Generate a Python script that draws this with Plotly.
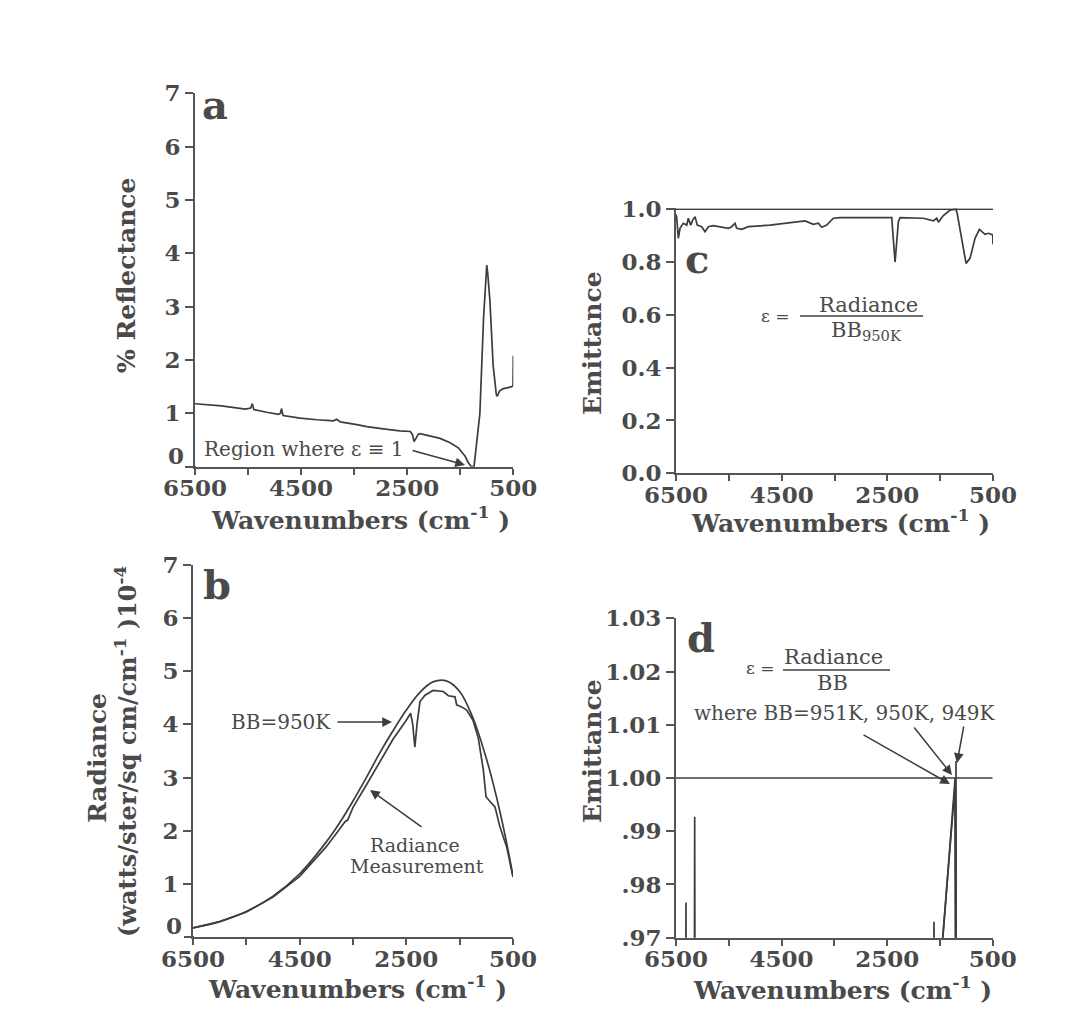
import plotly.graph_objects as go

W, H = 1092, 1020
OFF = 8  # page body margin of the html page

# ---------------- data ----------------
# Panel a: % reflectance
a_wn = [6500, 6000, 5550, 5450, 5420, 5390, 5150, 4930, 4890, 4870, 4840, 4520, 4200,
        3890, 3830, 3760, 3450, 3260, 2950, 2640, 2440, 2400, 2370, 2340, 2290, 2260,
        2010, 1880, 1690, 1530, 1470, 1410, 1350, 1290, 1240, 1130, 1060, 1020, 1000,
        980, 940, 880, 820, 800, 760, 700, 600, 530, 505, 500]
a_refl = [1.18, 1.14, 1.08, 1.10, 1.18, 1.07, 1.02, 0.98, 1.00, 1.09, 0.96, 0.91, 0.88,
          0.86, 0.89, 0.84, 0.79, 0.75, 0.71, 0.67, 0.66, 0.60, 0.47, 0.52, 0.61, 0.62,
          0.57, 0.53, 0.45, 0.35, 0.27, 0.20, 0.08, 0.0, 0.0, 1.0, 2.8, 3.55, 3.78,
          3.6, 3.1, 1.9, 1.35, 1.32, 1.42, 1.46, 1.48, 1.50, 1.52, 2.08]

# Panel b: radiance (x 1e-4)
b_bb_wn = [6500, 6000, 5500, 5000, 4500, 4000, 3750, 3500, 3250, 3000, 2750, 2500,
           2250, 2000, 1750, 1500, 1250, 1000, 875, 750, 625, 500]
b_bb = [0.17, 0.29, 0.48, 0.77, 1.19, 1.79, 2.15, 2.56, 3.00, 3.46, 3.88, 4.27,
        4.60, 4.80, 4.82, 4.62, 4.12, 3.36, 2.90, 2.38, 1.80, 1.15]
b_meas_wn = [6500, 6000, 5500, 5000, 4500, 4000, 3750, 3650, 3600, 3500, 3250, 3000,
             2750, 2500, 2420, 2380, 2340, 2300, 2244, 2150, 2000, 1806, 1713, 1588,
             1556, 1463, 1369, 1250, 1150, 1056, 1006, 931, 838, 744, 620, 500]
b_meas = [0.17, 0.29, 0.47, 0.75, 1.14, 1.70, 2.03, 2.17, 2.20, 2.44, 2.86, 3.30,
          3.72, 4.08, 4.21, 4.00, 3.57, 4.00, 4.43, 4.55, 4.64, 4.62, 4.54, 4.52,
          4.37, 4.33, 4.27, 4.08, 3.74, 3.14, 2.64, 2.55, 2.45, 2.07, 1.70, 1.13]

# Panel c: emittance (BB 950K)
c_wn = [6500, 6487, 6456, 6424, 6362, 6297, 6267, 6222, 6184, 6140, 6097, 6014, 5951,
        5888, 5794, 5667, 5510, 5446, 5383, 5351, 5256, 5131, 4721, 4058, 3901, 3806,
        3742, 3647, 3522, 3396, 2417, 2354, 2291, 2259, 1818, 1629, 1565, 1534, 1440,
        1313, 1250, 1200, 1175, 1092, 1010, 935, 840, 758, 650, 588, 505, 500]
c_emit = [0.98, 0.97, 0.89, 0.928, 0.947, 0.940, 0.966, 0.940, 0.959, 0.972, 0.940,
          0.934, 0.915, 0.934, 0.938, 0.934, 0.928, 0.934, 0.947, 0.928, 0.924, 0.934,
          0.940, 0.956, 0.943, 0.947, 0.932, 0.940, 0.966, 0.968, 0.968, 0.80, 0.953,
          0.968, 0.966, 0.956, 0.966, 0.951, 0.976, 0.997, 1.0, 1.0, 0.981, 0.89, 0.795,
          0.814, 0.89, 0.924, 0.905, 0.909, 0.903, 0.867]
ref_wn = [6500, 500]
ref_val = [1.0, 1.0]

# Panel d: emittance for three blackbody temperatures
d951_wn = [6500, 1455, 1214, 1198, 500]
d951 = [0.93, 0.969, 0.9985, 0.95, 0.90]
d950_wn = [6500, 1452, 1212, 1197, 500]
d950 = [0.93, 0.969, 1.000, 0.95, 0.90]
d949_wn = [6500, 6320, 6311, 6302, 6155, 6146, 6137, 1625, 1612, 1600, 1200, 1195, 1190, 500]
d949 = [0.93, 0.94, 0.9766, 0.94, 0.94, 0.9927, 0.94, 0.95, 0.973, 0.95, 0.95, 1.0032, 0.95, 0.90]

x_major = [6500, 4500, 2500, 500]
x_minor = [5500, 3500, 1500]
ab_yticks = [1, 2, 3, 4, 5, 6, 7]   # the "0" label sits just above the axis line
c_yticks = [0.0, 0.2, 0.4, 0.6, 0.8, 1.0]
c_ytext = ["0.0", "0.2", "0.4", "0.6", "0.8", "1.0"]
d_yticks = [0.97, 0.98, 0.99, 1.00, 1.01, 1.02, 1.03]
d_ytext = [".97", ".98", ".99", "1.00", "1.01", "1.02", "1.03"]

# ---------------- styling ----------------
INK = "#3d3d3d"
TXT = "#4a4a4a"
FONT = "DejaVu Serif"
LW = 1.7


def px(x):
    return (x - OFF) / W


def py(y):
    return 1 - (y - OFF) / H


fig = go.Figure()


def line(x, y, xa, ya, shape="linear"):
    fig.add_trace(go.Scatter(x=x, y=y, xaxis=xa, yaxis=ya, mode="lines",
                             line=dict(color=INK, width=LW, shape=shape),
                             showlegend=False, hoverinfo="skip"))


line(a_wn, a_refl, "x", "y")
line(b_bb_wn, b_bb, "x2", "y2", "spline")
line(b_meas_wn, b_meas, "x2", "y2")
line(ref_wn, ref_val, "x3", "y3")
line(c_wn, c_emit, "x3", "y3")
line(ref_wn, ref_val, "x4", "y4")
line(d951_wn, d951, "x4", "y4")
line(d950_wn, d950, "x4", "y4")
line(d949_wn, d949, "x4", "y4")

tickfont = dict(family=FONT, size=23, color=TXT, weight="bold")


def base(ticklen):
    return dict(showline=True, linecolor="#555", linewidth=2, ticks="outside",
                ticklen=ticklen, tickwidth=1.6, tickcolor="#555", showgrid=False,
                zeroline=False, tickfont=tickfont, fixedrange=True, automargin=False)


def xaxis(dom, anchor):
    return dict(domain=dom, range=[6500, 500], tickmode="array", tickvals=x_major,
                anchor=anchor, ticklabelstandoff=-6,
                minor=dict(tickmode="array", tickvals=x_minor, ticks="outside",
                           ticklen=6, tickwidth=1.6, tickcolor="#555", showgrid=False),
                **base(6))


fig.update_layout(
    template="none",
    width=W, height=H, margin=dict(l=0, r=0, t=0, b=0, pad=0, autoexpand=False),
    paper_bgcolor="white", plot_bgcolor="white",
    xaxis=xaxis([px(195), px(513.3)], "y"),
    yaxis=dict(domain=[py(466.7), py(93.3)], range=[0, 7], tickmode="array",
               tickvals=ab_yticks, anchor="x", **base(8)),
    xaxis2=xaxis([px(193), px(513)], "y2"),
    yaxis2=dict(domain=[py(937), py(565)], range=[0, 7], tickmode="array",
                tickvals=ab_yticks, anchor="x2", **base(8)),
    xaxis3=xaxis([px(676), px(993)], "y3"),
    yaxis3=dict(domain=[py(473.3), py(208.2)], range=[0, 1.004], tickmode="array",
                tickvals=c_yticks, ticktext=c_ytext, anchor="x3", **base(8)),
    xaxis4=xaxis([px(676), px(992.7)], "y4"),
    yaxis4=dict(domain=[py(937.7), py(618.3)], range=[0.97, 1.03], tickmode="array",
                tickvals=d_yticks, ticktext=d_ytext, anchor="x4", **base(8)),
)

ann = []


def text(t, x, y, size, rot=0, bold=True, xanchor="center"):
    ann.append(dict(text=t, x=px(x), y=py(y), xref="paper", yref="paper",
                    showarrow=False, textangle=rot, xanchor=xanchor, yanchor="middle",
                    font=dict(family=FONT, size=size, color=TXT,
                              weight="bold" if bold else "normal")))


def arrow(tx, ty, sx, sy):
    ann.append(dict(text="", x=px(tx), y=py(ty), xref="paper", yref="paper",
                    showarrow=True, ax=sx - tx, ay=sy - ty, arrowhead=2,
                    arrowsize=1.3, arrowwidth=1.5, arrowcolor=INK, standoff=0))


XT = "Wavenumbers (cm<sup>-1</sup> )"
# axis titles
text(XT, 360, 518, 25)
text(XT, 357, 987, 25)
text(XT, 840, 521, 25)
text(XT, 842, 988, 25)
text("% Reflectance", 127, 275, 25, rot=-90)
text("Radiance", 97, 758, 25, rot=-90)
text("(watts/ster/sq cm/cm<sup>-1</sup> )10<sup>-4</sup>", 126, 752, 24, rot=-90)
text("Emittance", 593, 343, 25, rot=-90)
text("Emittance", 592, 751, 25, rot=-90)

# "0" labels of panels a and b (raised above the axis line as in the original)
text("0", 186, 455, 23, xanchor="right")
text("0", 184, 925, 23, xanchor="right")

# panel letters
text("a", 215, 104, 40)
text("b", 217, 584, 40)
text("c", 697, 258, 40)
text("d", 701, 637, 40)

# panel a annotation
text("Region where ε ≡ 1", 304, 449, 20, bold=False)
arrow(465, 465, 411, 450)

# panel b annotations
text("BB=950K", 281, 722, 20, bold=False)
arrow(392, 722, 336, 722)
text("Radiance", 415, 845, 19, bold=False)
text("Measurement", 417, 866, 19, bold=False)
arrow(370, 790, 423, 828)

# panel c formula
text("ε =", 775, 316, 17, bold=False)
text("Radiance", 868, 305, 21, bold=False)
text("BB<sub>950K</sub>", 866, 331, 21, bold=False)

# panel d formula
text("ε =", 760, 668, 17, bold=False)
text("Radiance", 833, 657, 21, bold=False)
text("BB", 832, 683, 21, bold=False)
text("where BB=951K, 950K, 949K", 845, 713, 20, bold=False)
arrow(950, 784, 862, 734)
arrow(952, 775, 913, 726)
arrow(957, 763, 964, 725)

fig.update_layout(annotations=ann)

# fraction bars
fig.add_shape(type="line", xref="paper", yref="paper", x0=px(800), x1=px(923),
              y0=py(316), y1=py(316), line=dict(color=INK, width=1.5))
fig.add_shape(type="line", xref="paper", yref="paper", x0=px(783), x1=px(890),
              y0=py(670), y1=py(670), line=dict(color=INK, width=1.5))
# x-axis lines of panels a and b run slightly past the y axis
fig.add_shape(type="line", xref="paper", yref="paper", x0=px(185), x1=px(196),
              y0=py(467), y1=py(467), line=dict(color="#555", width=2))
fig.add_shape(type="line", xref="paper", yref="paper", x0=px(184), x1=px(194),
              y0=py(937), y1=py(937), line=dict(color="#555", width=2))

fig.write_html("out.html")
